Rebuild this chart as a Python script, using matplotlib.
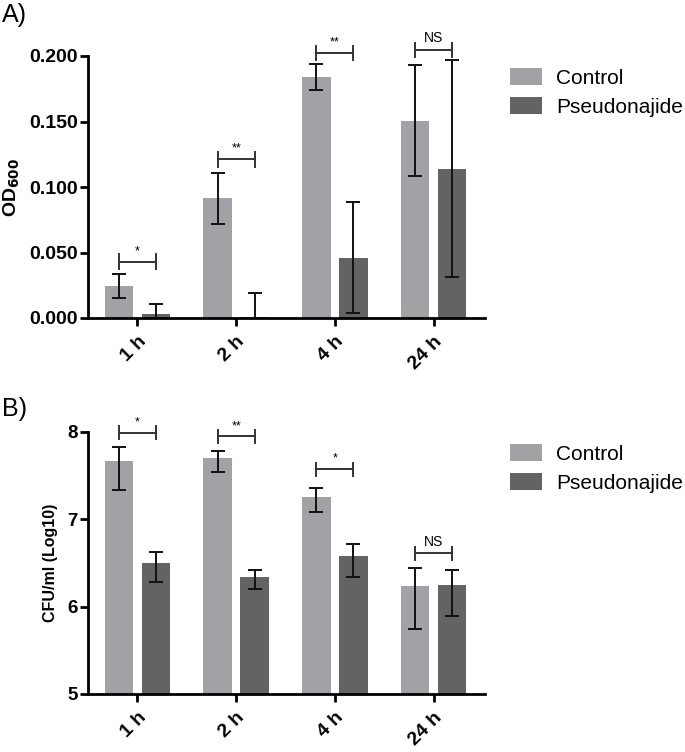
import matplotlib
matplotlib.use("Agg")
import matplotlib.pyplot as plt
import numpy as np
from matplotlib.patches import Patch

plt.rcParams['font.family'] = ['Liberation Sans', 'DejaVu Sans']

categories = ["1 h", "2 h", "4 h", "24 h"]
series_names = ["Control", "Pseudonajide"]

# Panel A: OD600
od_control = [0.0244, 0.0914, 0.184, 0.1506]
od_control_err = [0.0095, 0.0193, 0.0098, 0.0424]
od_pseudo = [0.003, 0.0008, 0.046, 0.114]
od_pseudo_err = [0.0078, 0.018, 0.0423, 0.0826]
od_sig = ["*", "**", "**", "NS"]
od_bracket = [0.043, 0.121, 0.2025, 0.2046]

# Panel B: CFU/ml (Log10)
cfu_control = [7.67, 7.70, 7.255, 6.232]
cfu_control_lo = [7.336, 7.542, 7.084, 5.74]
cfu_control_hi = [7.83, 7.786, 7.358, 6.438]
cfu_pseudo = [6.503, 6.343, 6.583, 6.247]
cfu_pseudo_lo = [6.285, 6.202, 6.339, 5.896]
cfu_pseudo_hi = [6.622, 6.416, 6.717, 6.416]
cfu_sig = ["*", "**", "*", "NS"]
cfu_bracket = [7.99, 7.95, 7.573, 6.61]

c_ctrl = "#a2a1a5"
c_pseu = "#636363"

fig = plt.figure(figsize=(6.85, 7.52), dpi=100)
W, H = 685, 752

def ax_rect(l, r, t, b):
    return [l / W, 1 - b / H, (r - l) / W, (b - t) / H]

axA = fig.add_axes(ax_rect(88, 485, 56, 318))
axB = fig.add_axes(ax_rect(88, 485, 432, 694))

x = np.arange(len(categories))
off = 0.187
bw = 0.288

def style(ax, yfs):
    for s in ['top', 'right']:
        ax.spines[s].set_visible(False)
    for s in ['left', 'bottom']:
        ax.spines[s].set_linewidth(2.0)
    ax.tick_params(axis='both', width=2.0, length=6, direction='out')
    ax.tick_params(axis='y', pad=1.5, labelsize=yfs)
    ax.tick_params(axis='x', pad=5)
    ax.set_xticks(x)
    ax.set_xticklabels(categories, rotation=45, ha='right', rotation_mode='anchor',
                       fontsize=14, fontweight='bold')
    for lab in ax.get_yticklabels():
        lab.set_fontweight('bold')
    ax.set_xlim(-0.5, 3.52)

def bracket(ax, xc, y, txt, dy_ticks, dy_text, fs):
    x0, x1 = xc - off, xc + off
    ax.plot([x0, x1], [y, y], color='#333333', lw=1.4, clip_on=False)
    for xx in (x0, x1):
        ax.plot([xx, xx], [y - dy_ticks, y + dy_ticks], color='#333333', lw=1.4, clip_on=False)
    ax.text(xc, y + dy_text, txt, ha='center', va='bottom', fontsize=fs, clip_on=False)

ekw = dict(fmt='none', ecolor='#111111', elinewidth=1.4, capsize=5, capthick=1.4, zorder=3)

# Panel A
axA.bar(x - off, od_control, bw, color=c_ctrl, label=series_names[0], zorder=2)
axA.bar(x + off, od_pseudo, bw, color=c_pseu, label=series_names[1], zorder=2)
axA.errorbar(x - off, od_control, yerr=od_control_err, **ekw)
axA.errorbar(x + off, od_pseudo, yerr=od_pseudo_err, **ekw)
axA.set_ylim(0, 0.2)
axA.set_yticks([0, 0.05, 0.1, 0.15, 0.2])
axA.set_yticklabels(["0.000", "0.050", "0.100", "0.150", "0.200"])
style(axA, 14)
axA.set_ylabel(r"OD$_{\mathbf{600}}$", fontsize=14, fontweight='bold', va='center')
axA.yaxis.set_label_coords((12 - 88) / 397, 0.5)
for i in range(4):
    fsz = 10 if od_sig[i] == "NS" else 9
    bracket(axA, x[i], od_bracket[i], od_sig[i], 0.0055, 0.0035, fsz)

# Panel B
axB.bar(x - off, [v - 5 for v in cfu_control], bw, bottom=5, color=c_ctrl, zorder=2)
axB.bar(x + off, [v - 5 for v in cfu_pseudo], bw, bottom=5, color=c_pseu, zorder=2)
yerr_c = [np.array(cfu_control) - np.array(cfu_control_lo), np.array(cfu_control_hi) - np.array(cfu_control)]
yerr_p = [np.array(cfu_pseudo) - np.array(cfu_pseudo_lo), np.array(cfu_pseudo_hi) - np.array(cfu_pseudo)]
axB.errorbar(x - off, cfu_control, yerr=yerr_c, **ekw)
axB.errorbar(x + off, cfu_pseudo, yerr=yerr_p, **ekw)
axB.set_ylim(5, 8)
axB.set_yticks([5, 6, 7, 8])
axB.set_yticklabels(["5", "6", "7", "8"])
style(axB, 13.5)
axB.set_ylabel("CFU/ml (Log10)", fontsize=11.5, fontweight='bold', va='center')
axB.yaxis.set_label_coords((50 - 88) / 397, 0.5)
for i in range(4):
    fsz = 10 if cfu_sig[i] == "NS" else 9
    bracket(axB, x[i], cfu_bracket[i], cfu_sig[i], 0.075, 0.05, fsz)

# Panel labels
fig.text(2 / W, 1 - 15 / H, "A)", fontsize=18, ha='left', va='center')
fig.text(2 / W, 1 - 409 / H, "B)", fontsize=18, ha='left', va='center')

# Legends
handles = [Patch(facecolor=c_ctrl), Patch(facecolor=c_pseu)]
for ytop in (60, 436):
    fig.legend(handles, series_names, loc='upper left',
               bbox_to_anchor=(502 / W, 1 - ytop / H), frameon=False,
               fontsize=15, handlelength=1.5, handleheight=0.85,
               labelspacing=0.45, handletextpad=0.7, borderaxespad=0)

fig.savefig("out.png", dpi=100)
